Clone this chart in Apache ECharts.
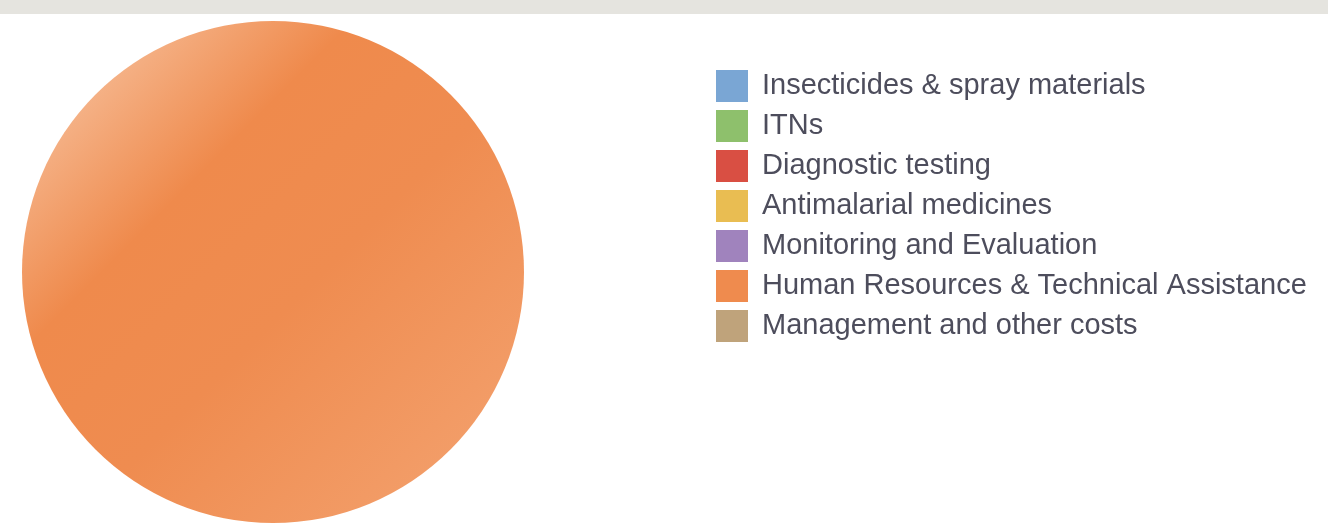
<!DOCTYPE html>
<html>
<head>
<meta charset="utf-8">
<script src="https://cdn.jsdelivr.net/npm/echarts@6/dist/echarts.min.js"></script>
<style>
html,body{margin:0;padding:0;background:#fff;}
#bar{position:absolute;left:0;top:0;width:1328px;height:14px;background:#e5e4df;}
#chart{position:absolute;left:0;top:0;width:1328px;height:532px;}
</style>
</head>
<body>
<div id="chart"></div>
<div id="bar"></div>
<script>
const categories = ['Insecticides & spray materials','ITNs','Diagnostic testing','Antimalarial medicines','Monitoring and Evaluation','Human Resources & Technical Assistance','Management and other costs'];
const values = [0, 0, 0, 0, 0, 100, 0];
const colors = ['#7aa6d4','#8ec06c','#d94f43','#e9bd52','#a083bd','#ef8b4e','#bfa37b'];

const chart = echarts.init(document.getElementById('chart'));
const data = categories.map((c, i) => ({
  name: c,
  value: values[i],
  itemStyle: {
    color: i === 5 ? new echarts.graphic.LinearGradient(0, 0, 1, 1, [
      {offset: 0, color: '#f9cfb2'},
      {offset: 0.33, color: '#ef8a4c'},
      {offset: 0.55, color: '#ef8c50'},
      {offset: 1, color: '#f4a472'}
    ]) : colors[i]
  }
}));
chart.setOption({
  animation: false,
  color: colors,
  textStyle: {fontFamily: 'Arial'},
  legend: {
    orient: 'vertical',
    left: 716,
    top: 70,
    padding: 0,
    itemWidth: 32,
    itemHeight: 32,
    itemGap: 8,
    icon: 'rect',
    data: categories.map((c, i) => ({name: c, itemStyle: {color: colors[i]}})),
    textStyle: {fontSize: 29, color: '#4d4d5c', fontFamily: 'Arial', padding: [0,0,0,9]},
    selectedMode: false
  },
  series: [{
    type: 'pie',
    center: [273, 272],
    radius: [0, 251],
    startAngle: 90,
    label: {show: false},
    labelLine: {show: false},
    itemStyle: {borderWidth: 0},
    emphasis: {disabled: true},
    data: data
  }]
});
</script>
</body>
</html>
